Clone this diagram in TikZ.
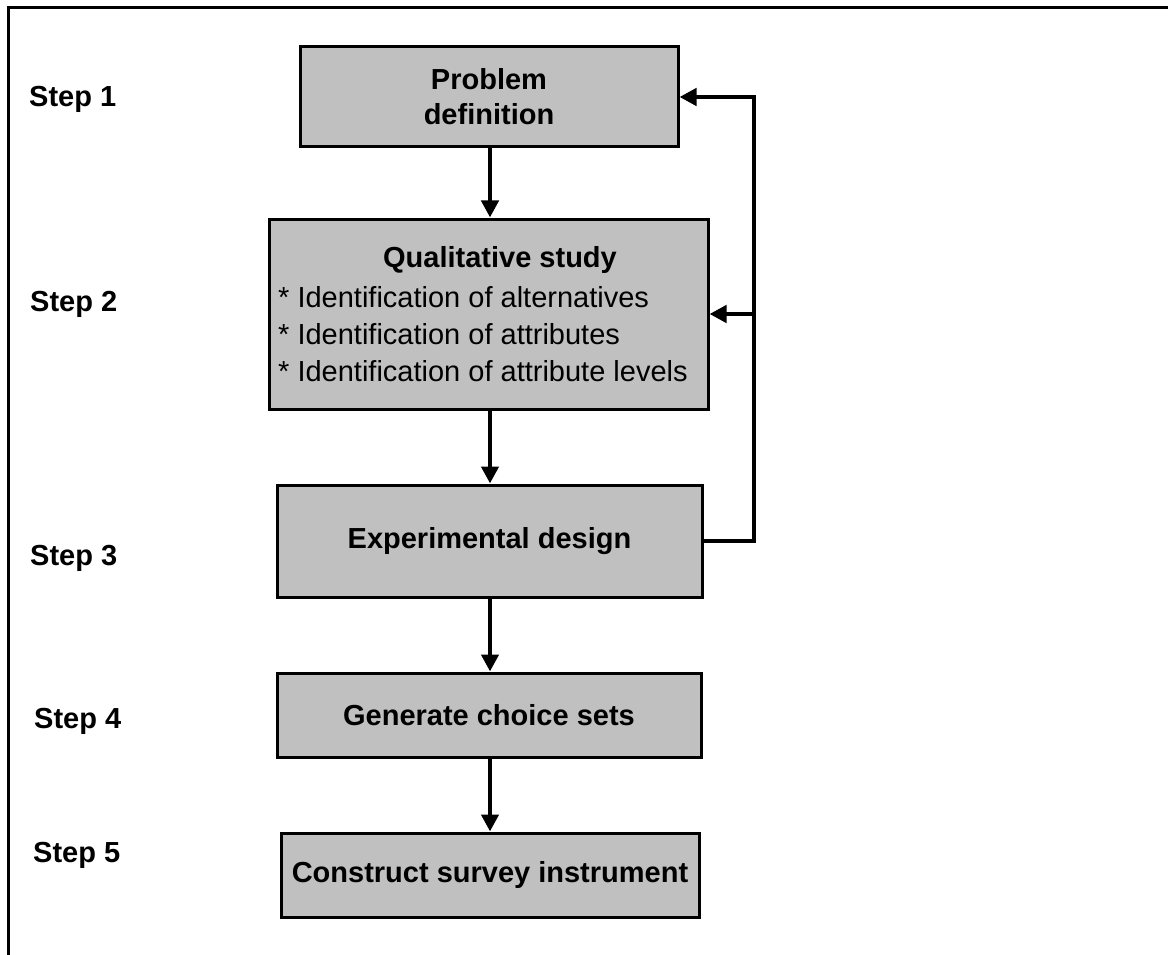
\documentclass[tikz,border=0pt]{standalone}
\usepackage{fontspec}
\setmainfont{Liberation Sans}
\usetikzlibrary{arrows.meta}
\definecolor{boxgray}{RGB}{192,192,192}
\begin{document}
\begin{tikzpicture}[x=1pt,y=-1pt,
  stepbox/.style={draw=black,fill=boxgray,line width=3pt,inner sep=0pt,
    minimum width=#1},
  boxtext/.style={font=\fontsize{29}{35}\selectfont\bfseries,align=center},
  plaintext/.style={font=\fontsize{29}{35}\selectfont,inner sep=0pt},
  steplabel/.style={font=\fontsize{29}{35}\selectfont\bfseries,inner sep=0pt,anchor=base west},
  flow/.style={line width=4.5pt,line join=miter,-{Triangle[length=17pt,width=17pt]}}]
\useasboundingbox (0,0) rectangle (1168,955);

% open frame: top and left edges only
\draw[line width=3pt] (8,955) -- (8,8) -- (1168,8);

% process boxes
\node[stepbox=378pt,minimum height=100pt,boxtext] (b1) at (489,97) {Problem\\definition};
\node[stepbox=439pt,minimum height=190pt] (b2) at (488.5,314) {};
\node[stepbox=425pt,minimum height=112pt,boxtext] (b3) at (489.5,541) {Experimental design};
\node[stepbox=424pt,minimum height=84pt,boxtext] (b4) at (489,715) {Generate choice sets};
\node[stepbox=418pt,minimum height=84pt,boxtext] (b5) at (490,875) {Construct survey instrument};

% contents of the qualitative study box
\node[plaintext,font=\fontsize{29}{35}\selectfont\bfseries,anchor=base] (q0) at (500,267) {Qualitative study};
\node[plaintext,anchor=base west] (q1) at (278,307) {* Identification of alternatives};
\node[plaintext,anchor=base west] (q2) at (278,344) {* Identification of attributes};
\node[plaintext,anchor=base west] (q3) at (278,381) {* Identification of attribute levels};

% step labels
\node[steplabel] (s1) at (29,107) {Step 1};
\node[steplabel] (s2) at (30,311) {Step 2};
\node[steplabel] (s3) at (30,565) {Step 3};
\node[steplabel] (s4) at (34,728) {Step 4};
\node[steplabel] (s5) at (33,862) {Step 5};

% main flow
\coordinate (ax) at (490,0);
\draw[flow] (b1.south -| ax) -- (b2.north -| ax);
\draw[flow] (b2.south -| ax) -- (b3.north -| ax);
\draw[flow] (b3.south -| ax) -- (b4.north -| ax);
\draw[flow] (b4.south -| ax) -- (b5.north -| ax);

% feedback loop from experimental design back to steps 1 and 2
\coordinate (fx) at (754,0);
\draw[flow] (b3.east) -- (b3.east -| fx) -- (b1.east -| fx) -- (b1.east);
\draw[flow] (b2.east -| fx) -- (b2.east);
\end{tikzpicture}
\end{document}
